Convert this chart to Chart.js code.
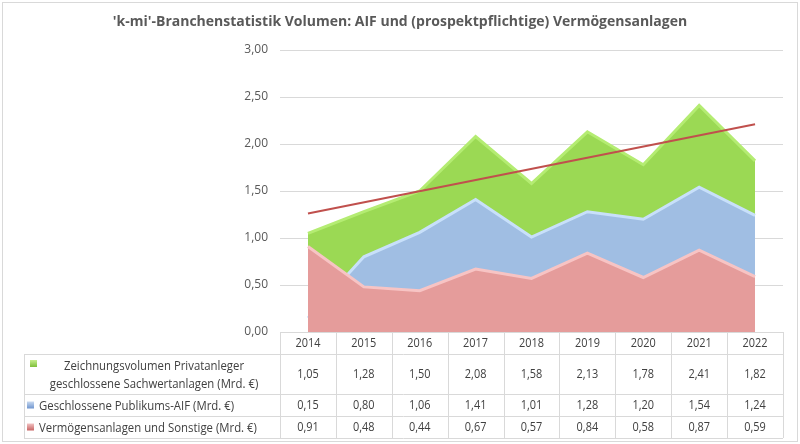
<!DOCTYPE html>
<html>
<head>
<meta charset="utf-8">
<script src="https://cdn.jsdelivr.net/npm/chart.js@4.4.1/dist/chart.umd.min.js"></script>
<style>
  html, body { margin: 0; padding: 0; background: #fff; }
  #wrap { width: 800px; height: 444px; }
</style>
</head>
<body>
<div id="wrap"><canvas id="volumeChart" width="800" height="444"></canvas></div>
<script>
// data
const years = ["2014", "2015", "2016", "2017", "2018", "2019", "2020", "2021", "2022"];
const zeichnungsvolumen = [1.05, 1.28, 1.50, 2.08, 1.58, 2.13, 1.78, 2.41, 1.82];
const publikumsAIF = [0.15, 0.80, 1.06, 1.41, 1.01, 1.28, 1.20, 1.54, 1.24];
const vermoegensanlagen = [0.91, 0.48, 0.44, 0.67, 0.57, 0.84, 0.58, 0.87, 0.59];
// linear trend of the green series, endpoints as seen in the picture
const trendValues = [1.26, null, null, null, null, null, null, null, 2.21];
const seriesNames = [
  ["Zeichnungsvolumen Privatanleger", "geschlossene Sachwertanlagen (Mrd. €)"],
  ["Geschlossene Publikums-AIF (Mrd. €)"],
  ["Vermögensanlagen und Sonstige (Mrd. €)"]
];
const chartTitle = "'k-mi'-Branchenstatistik Volumen: AIF und (prospektpflichtige) Vermögensanlagen";

const fmt = v => v.toFixed(2).replace(".", ",");
const FONT = "'Open Sans', 'Noto Sans', sans-serif";

// narrower text, the original uses a condensed office font
function narrowText(ctx, text, x, y) {
  ctx.fillText(text, x, y, ctx.measureText(text).width * 0.91);
}

// draws the title, the data table below the plot and the outer frame
const tablePlugin = {
  id: "dataTable",
  afterDraw(chart) {
    const ctx = chart.ctx;
    const x = chart.scales.x;
    const area = chart.chartArea;
    const colW = x.getPixelForValue(1) - x.getPixelForValue(0);
    const tableLeft = 24;
    const gridLeft = x.getPixelForValue(0) - colW / 2;
    const gridRight = x.getPixelForValue(years.length - 1) + colW / 2;
    const top = area.bottom;
    const rowH = [22, 40, 22, 22];
    const rowY = [top];
    rowH.forEach((h, i) => rowY.push(rowY[i] + h));
    const bottom = rowY[rowY.length - 1];

    ctx.save();
    // outer frame
    ctx.strokeStyle = "#D9D9D9";
    ctx.lineWidth = 1;
    ctx.strokeRect(2.5, 2.5, 795, 439);

    // title
    ctx.fillStyle = "#595959";
    ctx.font = "bold 14px " + FONT;
    ctx.textAlign = "center";
    ctx.textBaseline = "middle";
    ctx.fillText(chartTitle, 400, 22);

    // table lines
    ctx.strokeStyle = "#D9D9D9";
    ctx.beginPath();
    ctx.moveTo(gridLeft, top + 0.5);
    ctx.lineTo(gridRight, top + 0.5);
    for (let r = 1; r < rowY.length; r++) {
      ctx.moveTo(tableLeft, Math.round(rowY[r]) + 0.5);
      ctx.lineTo(gridRight, Math.round(rowY[r]) + 0.5);
    }
    for (let c = 0; c <= years.length; c++) {
      const cx = Math.round(gridLeft + c * colW) + 0.5;
      ctx.moveTo(cx, top);
      ctx.lineTo(cx, bottom);
    }
    ctx.moveTo(tableLeft + 0.5, rowY[1]);
    ctx.lineTo(tableLeft + 0.5, bottom);
    ctx.stroke();

    // header years
    ctx.fillStyle = "#404040";
    ctx.font = "12px " + FONT;
    years.forEach((y, i) => narrowText(ctx, y, x.getPixelForValue(i), rowY[0] + rowH[0] / 2 + 1));

    // values
    const rows = [zeichnungsvolumen, publikumsAIF, vermoegensanlagen];
    rows.forEach((vals, r) => {
      const cy = rowY[r + 1] + rowH[r + 1] / 2 + 1;
      vals.forEach((v, i) => narrowText(ctx, fmt(v), x.getPixelForValue(i), cy));
    });

    // legend keys + labels
    const keys = [
      ["#C6EE8E", "#7FBF3A"],
      ["#C9DAF0", "#6F95CF"],
      ["#F2C3C3", "#C86464"]
    ];
    ctx.font = "12.5px " + FONT;
    seriesNames.forEach((lines, r) => {
      const cy = rowY[r + 1] + rowH[r + 1] / 2;
      const kx = r === 0 ? 30 : 27;
      const ky = r === 0 ? rowY[1] + 6 : cy - 3.5;
      const g = ctx.createLinearGradient(0, ky, 0, ky + 7);
      g.addColorStop(0, keys[r][0]);
      g.addColorStop(1, keys[r][1]);
      ctx.fillStyle = g;
      ctx.fillRect(kx, ky, 7, 7);
      ctx.fillStyle = "#404040";
      if (lines.length === 2) {
        ctx.textAlign = "center";
        narrowText(ctx, lines[0], 154, cy - 8);
        narrowText(ctx, lines[1], 154, cy + 10);
      } else {
        ctx.textAlign = "left";
        narrowText(ctx, lines[0], 39, cy + 1);
      }
    });
    ctx.restore();
  }
};

const ctx = document.getElementById("volumeChart").getContext("2d");
new Chart(ctx, {
  type: "line",
  data: {
    labels: years,
    datasets: [
      {
        label: "Trend",
        data: trendValues,
        borderColor: "#C0504D",
        borderWidth: 2,
        pointRadius: 0,
        spanGaps: true,
        fill: false,
        order: 0
      },
      {
        label: seriesNames[2].join(" "),
        data: vermoegensanlagen,
        borderColor: "#F7C4C4",
        backgroundColor: "#E59C9B",
        borderWidth: 3,
        pointRadius: 0,
        tension: 0,
        fill: "origin",
        order: 1
      },
      {
        label: seriesNames[1].join(" "),
        data: publikumsAIF,
        borderColor: "#C8E0FA",
        backgroundColor: "#A0BEE3",
        borderWidth: 3,
        pointRadius: 0,
        tension: 0,
        fill: "origin",
        order: 2
      },
      {
        label: seriesNames[0].join(" "),
        data: zeichnungsvolumen,
        borderColor: "#B4EC72",
        backgroundColor: "#9BD954",
        borderWidth: 3,
        pointRadius: 0,
        tension: 0,
        fill: "origin",
        order: 3
      }
    ]
  },
  options: {
    responsive: false,
    animation: false,
    layout: { padding: { left: 0, top: 50, right: 17, bottom: 112 } },
    plugins: {
      legend: { display: false },
      tooltip: { enabled: false },
      title: { display: false }
    },
    scales: {
      x: {
        display: false,
        offset: true
      },
      y: {
        min: 0,
        max: 3,
        afterFit: s => { s.width = 280; },
        border: { display: false },
        grid: { color: "#D9D9D9", drawTicks: false },
        ticks: {
          stepSize: 0.5,
          padding: 12,
          color: "#595959",
          font: { family: FONT, size: 12 },
          callback: v => fmt(v)
        }
      }
    }
  },
  plugins: [tablePlugin]
});
</script>
</body>
</html>
